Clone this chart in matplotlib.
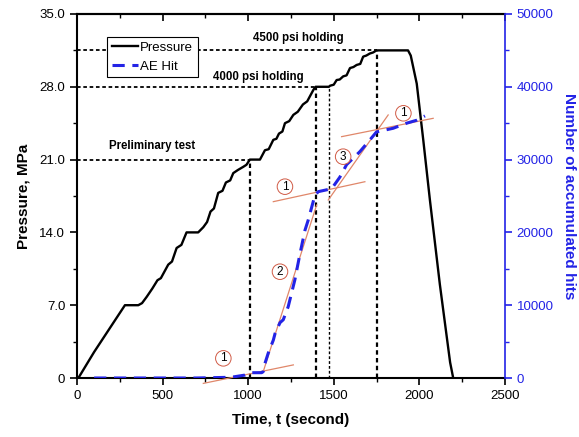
import matplotlib
matplotlib.use("Agg")
import matplotlib.pyplot as plt

plt.rcParams['font.family'] = ['Liberation Sans', 'DejaVu Sans']

# Pressure data (time s, MPa)
p_time = [0, 8, 100, 200, 280, 358, 380, 407, 440, 470, 490, 533, 555, 582, 610, 640, 708, 738,
          760, 780, 800, 825, 850, 870, 895, 913, 940, 971, 990,
          1010, 1069, 1098, 1120, 1147, 1165, 1180, 1200, 1215, 1240, 1264, 1290, 1320, 1345, 1381,
          1394, 1472, 1478, 1500, 1517, 1535, 1555, 1575,
          1595, 1615, 1634, 1655, 1672, 1690, 1711, 1730, 1750, 1934, 1950, 1985, 2023, 2062, 2120,
          2180, 2198]
p_val = [0, 0, 2.5, 5.0, 7.0, 7.0, 7.2, 7.8, 8.6, 9.4, 9.6, 10.9, 11.2, 12.5, 12.8, 14.0, 14.0, 14.5,
         15.0, 16.0, 16.3, 17.8, 18.0, 18.8, 19.0, 19.7, 20.0, 20.3, 20.5,
         21.0, 21.0, 21.9, 22.0, 22.9, 23.0, 23.5, 23.7, 24.5, 24.7, 25.3, 25.6, 26.3, 26.6, 27.7,
         28.0, 28.0, 28.1, 28.2, 28.65, 28.7, 29.0, 29.1,
         29.8, 29.9, 30.1, 30.2, 30.9, 31.0, 31.2, 31.3, 31.5, 31.5, 31.0, 28.3, 22.9, 17.1, 9.0,
         1.5, 0]

# Accumulated AE hits
ae_time = [100, 300, 500, 700, 900, 981, 1010, 1079, 1088, 1098, 1117, 1147, 1157, 1186, 1205,
           1234, 1273, 1303, 1332, 1351, 1390, 1410, 1488, 1536, 1575, 1653, 1711, 1750, 1847,
           1926, 1984, 2033]
ae_val = [0, 0, 0, 0, 100, 400, 730, 730, 870, 2000, 3400, 5200, 6100, 7600, 8000,
          9800, 13500, 17100, 20300, 21700, 25100, 25600, 26000, 27600, 29300, 31100, 32700,
          33800, 34300, 35000, 35400, 36000]

# Tangent (fit) lines: (t0, t1), (h0, h1)
fit_lines = [
    ((738, 1264), (-740, 1800)),
    ((1088, 1400), (870, 23760)),
    ((1147, 1682), (24220, 26960)),
    ((1468, 1818), (24450, 36130)),
    ((1546, 2081), (33150, 35670)),
]
circle_labels = [("1", 855, 2700), ("2", 1186, 14600), ("1", 1215, 26280),
                 ("3", 1555, 30400), ("1", 1907, 36360)]

# Holding levels
hold_levels = [21.0, 28.0, 31.5]
hold_times = [1010, 1394, 1750]
extra_vline = (1474, 28.0)

x_ticks = [0, 500, 1000, 1500, 2000, 2500]
y_ticks = [0, 7.0, 14.0, 21.0, 28.0, 35.0]
y_ticklabels = ["0", "7.0", "14.0", "21.0", "28.0", "35.0"]
y2_ticks = [0, 10000, 20000, 30000, 40000, 50000]

blue = '#2323e6'
fitc = '#e0876a'

fig = plt.figure(figsize=(5.79, 4.37), dpi=100)
ax = fig.add_axes([0.133, 0.135, 0.739, 0.833])
ax2 = ax.twinx()

# reference dashed lines
for lvl, t in zip(hold_levels, hold_times):
    ax.plot([0, t], [lvl, lvl], color='black', lw=1.3, ls=(0, (2, 1.5)))
    ax.plot([t, t], [0, lvl], color='black', lw=1.6, ls=(0, (2, 1.5)))
ax.plot([extra_vline[0]] * 2, [0, extra_vline[1]], color='black', lw=1.0, ls=(0, (2, 1.5)))

lp, = ax.plot(p_time, p_val, color='black', lw=1.7, label='Pressure')

for (t0, t1), (h0, h1) in fit_lines:
    ax2.plot([t0, t1], [h0, h1], color=fitc, lw=0.9, clip_on=False, zorder=2)
la, = ax2.plot(ae_time, ae_val, color=blue, lw=2.2, ls=(0, (4, 2.5)), label='AE Hit', zorder=3)

for s, t, h in circle_labels:
    ax2.text(t, h, s, ha='center', va='center', fontsize=8.5, zorder=4,
             bbox=dict(boxstyle='circle,pad=0.15', fc='white', ec='#d05a45', lw=0.7))

ax.set_xlim(0, 2500)
ax.set_ylim(0, 35)
ax2.set_ylim(0, 50000)
ax.set_xticks(x_ticks)
ax.set_xticks(range(250, 2500, 500), minor=True)
ax.set_yticks(y_ticks)
ax.set_yticklabels(y_ticklabels)
ax.set_yticks([3.5, 10.5, 17.5, 24.5, 31.5], minor=True)
ax2.set_yticks(y2_ticks)
ax2.set_yticks([5000, 15000, 25000, 35000, 45000], minor=True)

ax.tick_params(axis='both', which='major', direction='out', length=5, width=1.2, labelsize=9.5)
ax.tick_params(axis='both', which='minor', direction='out', length=3, width=1.0)
ax2.tick_params(axis='y', which='major', direction='out', length=5, width=1.2,
                labelsize=9.5, colors=blue)
ax2.tick_params(axis='y', which='minor', direction='out', length=3, width=1.0, colors=blue)

sec = ax.secondary_xaxis('top')
sec.set_xticks(x_ticks)
sec.set_xticks(range(250, 2500, 500), minor=True)
sec.tick_params(which='major', direction='in', length=5, width=1.2, labeltop=False)
sec.tick_params(which='minor', direction='in', length=3, width=1.0)
sec.spines['top'].set_linewidth(1.5)

for sp in ['left', 'bottom', 'top']:
    ax.spines[sp].set_linewidth(1.5)
ax2.spines['right'].set_color(blue)
ax2.spines['right'].set_linewidth(1.2)
ax.spines['right'].set_visible(False)
for sp in ['left', 'bottom', 'top']:
    ax2.spines[sp].set_visible(False)

ax.set_xlabel('Time, t (second)', fontsize=11, fontweight='bold', labelpad=8)
ax.set_ylabel('Pressure, MPa', fontsize=11, fontweight='bold', labelpad=6)
ax2.set_ylabel('Number of accumulated hits', fontsize=11, fontweight='bold',
               color=blue, rotation=-90, labelpad=16)

ax.text(1291, 32.7, '4500 psi holding', fontsize=8.3, fontweight='bold', ha='center', va='center')
ax.text(1057, 28.9, '4000 psi holding', fontsize=8.3, fontweight='bold', ha='center', va='center')
ax.text(441, 22.3, 'Preliminary test', fontsize=8.3, fontweight='bold', ha='center', va='center')

leg = ax2.legend(handles=[lp, la], loc='upper left', bbox_to_anchor=(0.07, 0.937),
                 borderaxespad=0, fancybox=False, edgecolor='black', framealpha=1,
                 fontsize=9.5, handlelength=2.0, handletextpad=0.15, borderpad=0.35,
                 labelspacing=0.5)
leg.get_frame().set_linewidth(0.8)
leg.set_zorder(10)

fig.savefig('out.png', dpi=100)
